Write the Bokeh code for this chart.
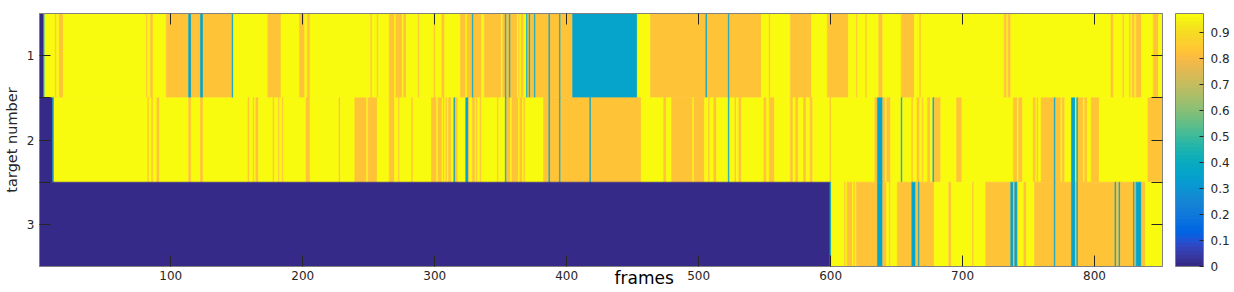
import numpy as np
from bokeh.plotting import figure
from bokeh.models import (LinearColorMapper, ColorBar, FixedTicker, Range1d, LinearAxis,
                          CustomJSTickFormatter, ColumnDataSource)
from bokeh.transform import transform
from bokeh.embed import file_html
from bokeh.resources import INLINE

# ---------------- data ----------------
N_FRAMES = 851
TARGETS = [1, 2, 3]
X_TICKS = [100, 200, 300, 400, 500, 600, 700, 800]
CB_TICKS = [0, 0.1, 0.2, 0.3, 0.4, 0.5, 0.6, 0.7, 0.8, 0.9]
CLIM = (0.0, 0.973)
LEVEL = {"Y": 0.97, "O": 0.834, "C": 0.355, "D": 0.0}
DEFAULT = "Y"

# (first frame, last frame, level) for every non-yellow stretch
ROW1 = [(1, 3, "D"), (4, 4, "C"), (13, 13, "O"), (16, 18, "O"), (82, 82, "O"), (85, 86, "O"),
        (97, 113, "O"), (114, 115, "C"), (116, 122, "O"), (123, 124, "C"), (125, 146, "O"),
        (147, 147, "C"), (174, 183, "O"), (198, 201, "O"), (204, 205, "O"), (252, 252, "O"),
        (257, 257, "O"), (266, 269, "O"), (271, 275, "O"), (277, 278, "O"), (288, 288, "O"),
        (300, 300, "O"), (306, 307, "O"), (320, 323, "O"), (325, 328, "O"), (329, 329, "C"),
        (330, 335, "O"), (338, 350, "O"), (352, 353, "O"), (354, 354, "C"), (355, 356, "O"),
        (357, 357, "C"), (358, 362, "O"), (364, 364, "O"), (366, 367, "O"), (370, 370, "C"),
        (371, 371, "O"), (372, 372, "C"), (373, 375, "O"), (376, 376, "C"), (377, 386, "O"),
        (387, 387, "C"), (388, 394, "O"), (395, 395, "C"), (396, 404, "O"), (405, 453, "C"),
        (464, 505, "O"), (506, 506, "C"), (507, 522, "O"), (523, 523, "C"), (524, 547, "O"),
        (554, 554, "O"), (570, 585, "O"), (598, 613, "O"), (620, 620, "O"), (627, 627, "O"),
        (637, 639, "O"), (654, 663, "O"), (668, 668, "O"), (732, 733, "O"), (735, 736, "O"),
        (813, 814, "O"), (822, 822, "O"), (827, 827, "O"), (829, 830, "O"), (832, 835, "O"),
        (845, 848, "O")]
ROW2 = [(1, 10, "D"), (11, 11, "C"), (83, 83, "O"), (86, 86, "O"), (90, 91, "O"), (114, 115, "O"),
        (123, 124, "O"), (159, 159, "O"), (163, 163, "O"), (165, 166, "O"), (178, 178, "O"),
        (182, 182, "O"), (185, 185, "O"), (203, 205, "O"), (228, 228, "O"), (240, 248, "O"),
        (250, 256, "O"), (266, 269, "O"), (273, 273, "O"), (283, 283, "O"), (298, 301, "O"),
        (303, 305, "O"), (307, 307, "O"), (309, 309, "O"), (311, 312, "O"), (315, 315, "C"),
        (316, 317, "O"), (324, 325, "C"), (326, 326, "O"), (329, 330, "O"), (332, 332, "O"),
        (335, 335, "O"), (348, 348, "O"), (354, 354, "C"), (355, 357, "O"), (359, 363, "O"),
        (365, 366, "O"), (368, 368, "O"), (383, 386, "O"), (387, 387, "C"), (388, 394, "O"),
        (395, 395, "C"), (396, 417, "O"), (418, 418, "C"), (419, 456, "O"), (474, 475, "O"),
        (480, 495, "O"), (497, 504, "O"), (508, 508, "O"), (512, 513, "O"), (523, 523, "C"),
        (528, 528, "O"), (531, 532, "O"), (550, 551, "O"), (554, 557, "O"), (570, 571, "O"),
        (574, 575, "O"), (580, 581, "O"), (585, 586, "O"), (600, 600, "O"), (634, 635, "O"),
        (636, 639, "C"), (640, 641, "O"), (643, 645, "O"), (654, 654, "C"), (662, 662, "O"),
        (666, 667, "O"), (670, 670, "O"), (674, 675, "O"), (678, 678, "C"), (679, 683, "O"),
        (696, 699, "O"), (739, 741, "O"), (743, 745, "O"), (754, 755, "O"), (757, 757, "O"),
        (760, 769, "O"), (770, 770, "C"), (771, 774, "O"), (776, 777, "O"), (783, 785, "C"),
        (787, 787, "C"), (788, 791, "O"), (793, 794, "O"), (798, 803, "O"), (841, 851, "O")]
ROW3 = [(1, 599, "D"), (600, 600, "C"), (611, 611, "O"), (613, 616, "O"), (618, 618, "O"),
        (620, 635, "O"), (636, 639, "C"), (640, 642, "O"), (645, 645, "O"), (651, 661, "O"),
        (662, 664, "C"), (665, 666, "O"), (667, 667, "C"), (668, 678, "O"), (690, 691, "O"),
        (708, 708, "O"), (718, 736, "O"), (737, 738, "C"), (739, 739, "O"), (740, 741, "C"),
        (742, 742, "O"), (747, 748, "O"), (755, 769, "O"), (770, 770, "C"), (771, 782, "O"),
        (783, 785, "C"), (786, 786, "O"), (787, 787, "C"), (788, 815, "O"), (816, 816, "C"),
        (817, 818, "O"), (819, 819, "C"), (820, 829, "O"), (830, 830, "C"), (831, 831, "O"),
        (832, 835, "C"), (836, 838, "O")]

# MATLAB parula (64)
PARULA = [
    (0.2081, 0.1663, 0.5292), (0.2116, 0.1898, 0.5777), (0.2123, 0.2138, 0.6270), (0.2081, 0.2386, 0.6771),
    (0.1959, 0.2645, 0.7279), (0.1707, 0.2919, 0.7792), (0.1253, 0.3242, 0.8303), (0.0591, 0.3598, 0.8683),
    (0.0117, 0.3875, 0.8820), (0.0060, 0.4086, 0.8828), (0.0165, 0.4266, 0.8786), (0.0329, 0.4430, 0.8720),
    (0.0498, 0.4586, 0.8641), (0.0629, 0.4737, 0.8554), (0.0723, 0.4887, 0.8467), (0.0779, 0.5040, 0.8384),
    (0.0793, 0.5200, 0.8312), (0.0749, 0.5375, 0.8263), (0.0641, 0.5570, 0.8240), (0.0488, 0.5772, 0.8228),
    (0.0343, 0.5966, 0.8199), (0.0265, 0.6137, 0.8135), (0.0239, 0.6287, 0.8038), (0.0231, 0.6418, 0.7913),
    (0.0228, 0.6535, 0.7768), (0.0267, 0.6642, 0.7607), (0.0384, 0.6743, 0.7436), (0.0590, 0.6838, 0.7254),
    (0.0843, 0.6928, 0.7062), (0.1133, 0.7015, 0.6859), (0.1453, 0.7098, 0.6646), (0.1801, 0.7177, 0.6424),
    (0.2178, 0.7250, 0.6193), (0.2586, 0.7317, 0.5954), (0.3022, 0.7376, 0.5712), (0.3482, 0.7424, 0.5473),
    (0.3953, 0.7459, 0.5244), (0.4420, 0.7481, 0.5033), (0.4871, 0.7491, 0.4840), (0.5300, 0.7491, 0.4661),
    (0.5709, 0.7485, 0.4494), (0.6099, 0.7473, 0.4337), (0.6473, 0.7456, 0.4188), (0.6834, 0.7435, 0.4044),
    (0.7184, 0.7411, 0.3905), (0.7525, 0.7384, 0.3768), (0.7858, 0.7356, 0.3633), (0.8185, 0.7327, 0.3498),
    (0.8507, 0.7299, 0.3360), (0.8824, 0.7274, 0.3217), (0.9139, 0.7258, 0.3063), (0.9450, 0.7261, 0.2886),
    (0.9739, 0.7314, 0.2666), (0.9938, 0.7455, 0.2403), (0.9990, 0.7653, 0.2164), (0.9955, 0.7861, 0.1967),
    (0.9880, 0.8066, 0.1794), (0.9789, 0.8271, 0.1633), (0.9697, 0.8481, 0.1475), (0.9626, 0.8705, 0.1309),
    (0.9589, 0.8949, 0.1132), (0.9598, 0.9218, 0.0948), (0.9661, 0.9514, 0.0755), (0.9763, 0.9831, 0.0538)]
palette = ["#%02x%02x%02x" % tuple(int(round(c * 255)) for c in rgb) for rgb in PARULA]

# ---------------- build matrix & runs ----------------
Z = np.full((len(TARGETS), N_FRAMES), LEVEL[DEFAULT])
for r, segs in enumerate([ROW1, ROW2, ROW3]):
    for s, e, k in segs:
        Z[r, s - 1:e] = LEVEL[k]

left, right, bottom, top, val = [], [], [], [], []
for r, t in enumerate(TARGETS):
    row = Z[r]
    start = 0
    for i in range(1, N_FRAMES + 1):
        if i == N_FRAMES or row[i] != row[start]:
            left.append(start + 0.5)
            right.append(i + 0.5)
            bottom.append(t + 0.5)
            top.append(t - 0.5)
            val.append(row[start])
            start = i
src = ColumnDataSource(dict(left=left, right=right, bottom=bottom, top=top, val=val))

mapper = LinearColorMapper(palette=palette, low=CLIM[0], high=CLIM[1])

FONT = "DejaVu Sans"
TXT = "#262626"
AX = "#808080"

p = figure(width=1232, height=290, x_range=Range1d(0.5, N_FRAMES + 0.5),
           y_range=Range1d(len(TARGETS) + 0.5, 0.5),
           output_backend="svg", toolbar_location=None,
           min_border_left=32, min_border_top=13, min_border_bottom=24, min_border_right=0)
p.grid.visible = False
p.outline_line_color = AX
p.background_fill_color = "white"

p.quad(left="left", right="right", bottom="bottom", top="top", source=src,
       fill_color=transform("val", mapper), line_color=transform("val", mapper), line_width=0.6)

xt = FixedTicker(ticks=X_TICKS)
yt = FixedTicker(ticks=TARGETS, minor_ticks=[1.5, 2.5])
blank = CustomJSTickFormatter(code="return ''")
spacer = CustomJSTickFormatter(code="return '\\u00a0'")

for ax in (p.xaxis[0], p.yaxis[0]):
    ax.axis_line_color = AX
    ax.major_tick_line_color = TXT
    ax.major_tick_in = 11
    ax.major_tick_out = 0
    ax.minor_tick_out = 0
    ax.major_label_text_font = FONT
    ax.major_label_text_font_size = "12px"
    ax.major_label_text_color = TXT

xa = p.xaxis[0]
xa.ticker = xt
xa.minor_tick_line_color = None
xa.major_label_standoff = 4
# x label sits on the tick-label line, a little right of centre (as in the reference)
xa.axis_label = "\u00a0" * 16 + "frames"
xa.axis_label_text_font = FONT
xa.axis_label_text_font_size = "17px"
xa.axis_label_text_font_style = "normal"
xa.axis_label_text_color = "black"
xa.axis_label_standoff = -15

ya = p.yaxis[0]
ya.ticker = yt
ya.minor_tick_in = 11
ya.minor_tick_line_color = TXT
ya.major_label_standoff = 5
ya.axis_label = "target number"
ya.axis_label_text_font = FONT
ya.axis_label_text_font_size = "14.5px"
ya.axis_label_text_font_style = "normal"
ya.axis_label_text_color = TXT
ya.axis_label_standoff = 4

top_ax = LinearAxis(ticker=xt, formatter=blank, major_tick_in=11, major_tick_out=0,
                    minor_tick_line_color=None, axis_line_color=AX, major_tick_line_color=TXT,
                    major_label_standoff=0)
right_ax = LinearAxis(ticker=yt, formatter=spacer, major_tick_in=11, major_tick_out=0,
                      minor_tick_in=11, minor_tick_out=0, minor_tick_line_color=TXT,
                      axis_line_color=AX, major_tick_line_color=TXT, major_label_standoff=6,
                      major_label_text_font=FONT, major_label_text_font_size="12px")
p.add_layout(top_ax, "above")
p.add_layout(right_ax, "right")

cbar = ColorBar(color_mapper=mapper, ticker=FixedTicker(ticks=CB_TICKS),
                formatter=CustomJSTickFormatter(code=r"return tick.toFixed(1).replace(/\.0$/, '')"),
                width=28, padding=0, margin=0, bar_line_color=AX,
                major_tick_line_color=TXT, major_tick_in=4, major_tick_out=0,
                minor_tick_line_color=None, label_standoff=7,
                major_label_text_font=FONT, major_label_text_font_size="12px",
                major_label_text_color=TXT, background_fill_color=None, border_line_color=None)
p.add_layout(cbar, "right")

open("out.html", "w").write(file_html(p, INLINE))
